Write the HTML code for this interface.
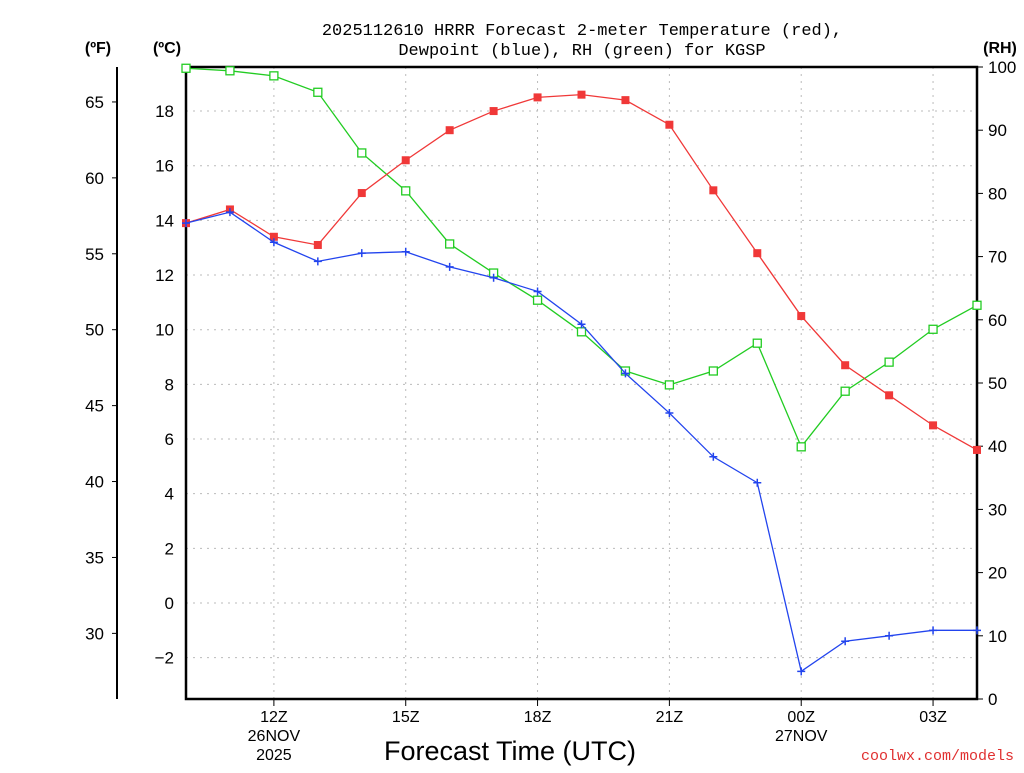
<!DOCTYPE html>
<html><head><meta charset="utf-8"><style>
body{margin:0;background:#fff;}
svg text{font-family:"Liberation Sans","DejaVu Sans",sans-serif;}
svg text.mono{font-family:"Liberation Mono","DejaVu Sans Mono",monospace;}
</style></head><body>
<svg id="chart" width="1024" height="768" xmlns="http://www.w3.org/2000/svg">
<g id="grid"></g>
<g id="axes"></g>
<g id="series"></g>
<text class="mono" x="582" y="35" text-anchor="middle" font-size="17">2025112610 HRRR Forecast 2-meter Temperature (red),</text>
<text class="mono" x="582" y="55" text-anchor="middle" font-size="17">Dewpoint (blue), RH (green) for KGSP</text>
<text x="98" y="53" text-anchor="middle" font-size="16" font-weight="bold">(ºF)</text>
<text x="167" y="53" text-anchor="middle" font-size="16" font-weight="bold">(ºC)</text>
<text x="1000" y="53" text-anchor="middle" font-size="16" font-weight="bold">(RH)</text>
<text x="510" y="760" text-anchor="middle" font-size="27">Forecast Time (UTC)</text>
<text class="mono" x="1014" y="760" text-anchor="end" font-size="15" fill="#e03030">coolwx.com/models</text>
</svg>
<script>
const hours=[10,11,12,13,14,15,16,17,18,19,20,21,22,23,24,25,26,27,28];
const tempC=[13.9,14.4,13.4,13.1,15.0,16.2,17.3,18.0,18.5,18.6,18.4,17.5,15.1,12.8,10.5,8.7,7.6,6.5,5.6];
const dewC=[13.9,14.3,13.2,12.5,12.8,12.85,12.3,11.9,11.4,10.2,8.4,6.95,5.35,4.4,-2.5,-1.4,-1.2,-1.0,-1.0];
const rh=[99.8,99.4,98.6,96.0,86.4,80.4,72.0,67.4,63.1,58.1,51.9,49.7,51.9,56.3,39.9,48.7,53.3,58.5,62.3];
const cTicks=[-2,0,2,4,6,8,10,12,14,16,18];
const fTicks=[30,35,40,45,50,55,60,65];
const rhTicks=[0,10,20,30,40,50,60,70,80,90,100];
const xTicks=[12,15,18,21,24,27];
const xLabels=["12Z","15Z","18Z","21Z","00Z","03Z"];
const X0=186,X1=977,Y0=67,Y1=699;
const x=h=>X0+(h-10)*(X1-X0)/18;
const yC=c=>603-c*27.33;
const yF=f=>yC((f-32)*5/9);
const yR=r=>Y1-r*(Y1-Y0)/100;
const NS="http://www.w3.org/2000/svg";
function mk(p,t,a){const e=document.createElementNS(NS,t);for(const k in a)e.setAttribute(k,a[k]);document.getElementById(p).appendChild(e);return e;}
cTicks.forEach(c=>{const l=mk('grid','line',{x1:X0,x2:X1,y1:yC(c),y2:yC(c),stroke:'#bbb','stroke-dasharray':'2,5'});


const t=mk('axes','text',{x:174,y:yC(c)+6,'text-anchor':'end','font-size':17});t.textContent=(c<0?'\u2212'+(-c):c);

});
xTicks.forEach((h,i)=>{const l=mk('grid','line',{x1:x(h),x2:x(h),y1:Y0,y2:Y1,stroke:'#bbb','stroke-dasharray':'2,5'});


mk('axes','line',{x1:x(h),x2:x(h),y1:Y1,y2:Y1+7,stroke:'#000'});
const t=mk('axes','text',{x:x(h),y:722,'text-anchor':'middle','font-size':16});t.textContent=xLabels[i];

});
[["26NOV",12,741],["2025",12,760],["27NOV",24,741]].forEach(d=>{const t=mk('axes','text',{x:x(d[1]),y:d[2],'text-anchor':'middle','font-size':16});t.textContent=d[0];

});
fTicks.forEach(f=>{mk('axes','line',{x1:112,x2:117,y1:yF(f),y2:yF(f),stroke:'#000'});
const t=mk('axes','text',{x:104,y:yF(f)+6,'text-anchor':'end','font-size':17});t.textContent=f;

});
mk('axes','line',{x1:117,x2:117,y1:Y0,y2:Y1,stroke:'#000','stroke-width':2});
rhTicks.forEach(r=>{mk('axes','line',{x1:X1,x2:X1+6,y1:yR(r),y2:yR(r),stroke:'#000'});
const t=mk('axes','text',{x:988,y:yR(r)+6,'font-size':17});t.textContent=r;

});
const fr=mk('axes','rect',{x:X0,y:Y0,width:X1-X0,height:Y1-Y0,fill:'none',stroke:'#000','stroke-width':2.5});


function series(vals,yf,col,kind,name){
 const pts=vals.map((v,i)=>x(hours[i])+','+yf(v)).join(' ');
 const pl=mk('series','polyline',{points:pts,fill:'none',stroke:col,'stroke-width':1.3});
 
 
 vals.forEach((v,i)=>{const cx=x(hours[i]),cy=yf(v);let m;
  if(kind==='sq')m=mk('series','rect',{x:cx-4,y:cy-4,width:8,height:8,fill:col});
  else if(kind==='osq')m=mk('series','rect',{x:cx-4,y:cy-4,width:8,height:8,fill:'#fff',stroke:col,'stroke-width':1.3});
  else m=mk('series','path',{d:`M${cx-4},${cy}H${cx+4}M${cx},${cy-4}V${cy+4}`,stroke:col,'stroke-width':1.5});
  
  });
}
series(rh,yR,'#22cc22','osq','rh');
series(tempC,yC,'#f03838','sq','temperature');
series(dewC,yC,'#2244ee','plus','dewpoint');
</script>
</body></html>
